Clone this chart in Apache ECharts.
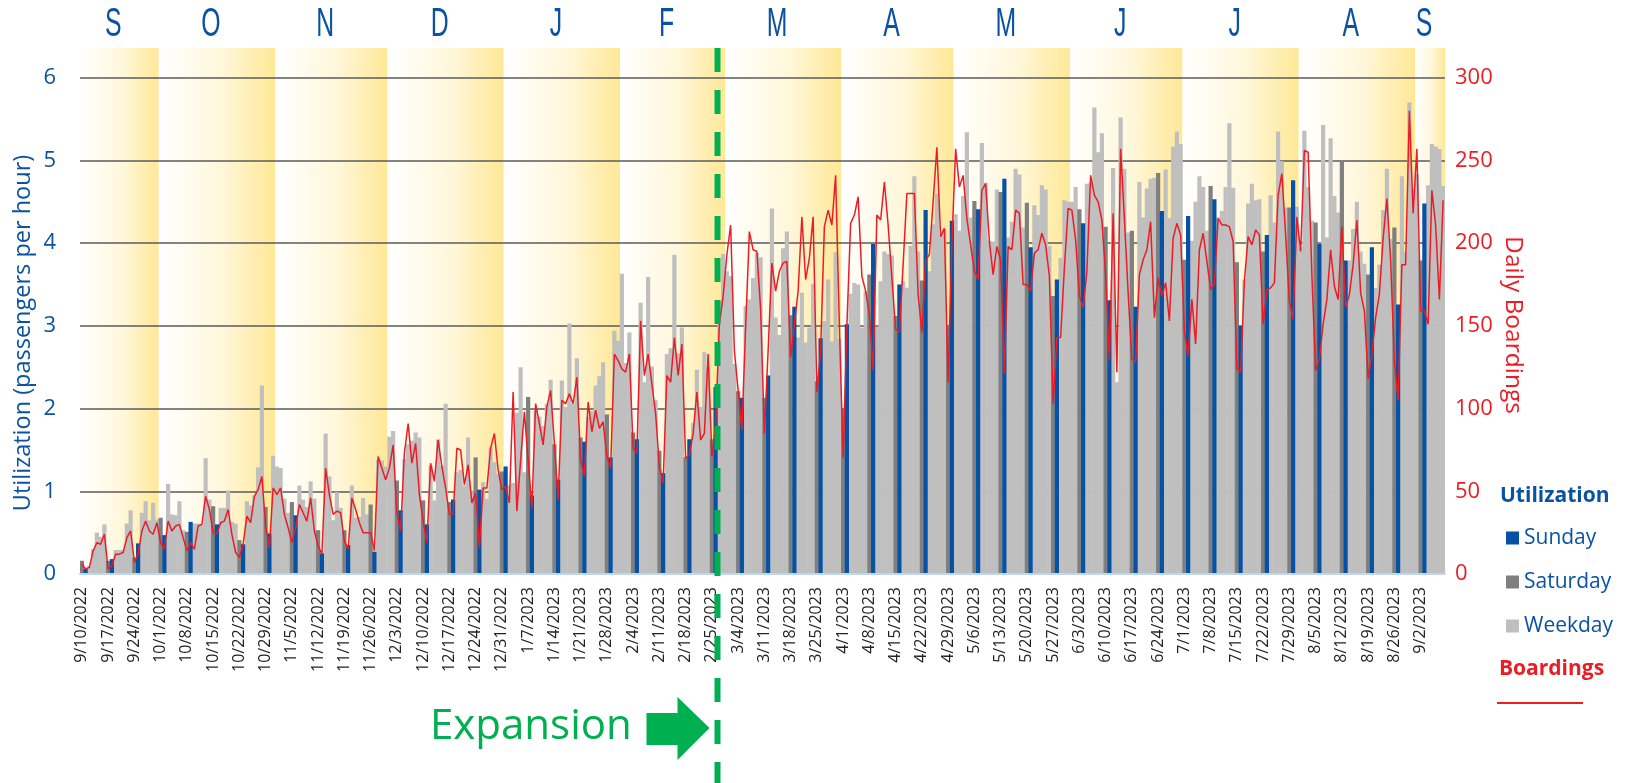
<!DOCTYPE html>
<html>
<head>
<meta charset="utf-8">
<title>Utilization and Daily Boardings</title>
<script src="https://cdn.jsdelivr.net/npm/echarts@6/dist/echarts.min.js"></script>
<style>
  html, body { margin: 0; padding: 0; background: #fff; }
  #chart { width: 1631px; height: 783px; }
</style>
</head>
<body>
<div id="chart"></div>
<script>
// one bar per day, first day is Sat 9/10/2022
const startYear = 2022, startMonth = 8, startDay = 10
const monthLetters = ['S', 'O', 'N', 'D', 'J', 'F', 'M', 'A', 'M', 'J', 'J', 'A', 'S']
const expansionDay = 170 // first day after the expansion (2/27/2023)

// utilization (passengers per hour), one row per week, Sat..Fri
const utilization = [
  0.16, 0.06, 0.10, 0.30, 0.50, 0.45, 0.60,
  0.16, 0.18, 0.29, 0.29, 0.29, 0.61, 0.77,
  0.20, 0.37, 0.74, 0.88, 0.65, 0.86, 0.66,
  0.68, 0.47, 1.09, 0.72, 0.71, 0.88, 0.53,
  0.51, 0.63, 0.61, 0.61, 0.60, 1.40, 0.90,
  0.82, 0.60, 0.80, 0.80, 1.01, 0.63, 0.61,
  0.41, 0.36, 0.88, 0.83, 0.95, 1.29, 2.28,
  0.81, 0.49, 1.43, 1.30, 1.28, 0.91, 0.74,
  0.87, 0.71, 1.07, 0.90, 0.81, 1.12, 0.91,
  0.53, 0.25, 1.70, 1.18, 0.65, 0.99, 0.80,
  0.53, 0.35, 1.07, 0.68, 0.69, 0.92, 0.72,
  0.84, 0.27, 1.38, 1.37, 1.30, 1.66, 1.73,
  1.13, 0.77, 1.39, 1.57, 1.61, 1.71, 1.65,
  0.89, 0.60, 1.31, 0.89, 1.63, 1.31, 2.06,
  0.87, 0.90, 1.23, 1.26, 1.07, 1.65, 1.00,
  1.41, 1.02, 1.11, 0.91, 1.53, 1.35, 1.21,
  1.24, 1.30, 1.07, 1.10, 1.95, 2.50, 1.23,
  2.14, 0.95, 1.97, 1.90, 1.79, 2.06, 2.35,
  1.57, 1.14, 2.34, 2.02, 3.03, 2.06, 2.61,
  1.65, 1.60, 1.90, 1.97, 2.28, 2.39, 2.56,
  1.93, 1.41, 2.94, 2.82, 3.63, 2.55, 2.92,
  1.71, 1.63, 3.28, 2.32, 3.59, 2.51, 2.10,
  1.49, 1.22, 2.66, 2.73, 3.86, 2.67, 2.98,
  1.41, 1.63, 1.83, 2.47, 2.02, 2.68, 2.50,
  1.63, 2.26, 3.30, 3.87, 3.66, 3.60, 2.54,
  2.21, 2.13, 3.24, 3.32, 3.58, 3.88, 3.83,
  2.13, 2.40, 4.42, 3.10, 2.89, 3.94, 4.14,
  3.13, 3.23, 2.86, 3.40, 2.80, 2.98, 3.51,
  2.33, 2.85, 3.06, 3.56, 2.81, 3.89, 2.84,
  2.00, 3.02, 3.39, 3.52, 3.50, 2.98, 3.42,
  3.62, 3.99, 2.99, 3.54, 3.90, 3.87, 3.85,
  3.12, 3.50, 3.54, 3.46, 3.97, 4.81, 3.90,
  3.55, 4.40, 3.66, 4.23, 4.60, 4.10, 4.17,
  3.00, 4.27, 4.35, 4.15, 4.57, 5.34, 4.31,
  4.51, 4.41, 5.21, 4.73, 4.03, 4.02, 4.65,
  4.62, 4.78, 4.07, 4.26, 4.90, 4.83, 4.19,
  4.49, 3.95, 4.46, 4.34, 4.70, 4.65, 3.97,
  3.36, 3.56, 3.82, 4.52, 4.50, 4.50, 4.68,
  4.41, 4.24, 4.72, 4.73, 5.64, 5.10, 5.33,
  4.20, 3.31, 4.91, 2.32, 5.52, 4.90, 4.13,
  4.15, 3.23, 4.74, 4.31, 4.66, 4.78, 4.79,
  4.85, 4.39, 4.89, 4.30, 5.17, 5.35, 5.20,
  3.80, 4.33, 4.03, 4.50, 4.81, 4.68, 4.15,
  4.69, 4.53, 4.31, 4.39, 4.68, 5.45, 4.67,
  3.77, 3.00, 3.56, 4.48, 4.72, 4.52, 4.53,
  3.90, 4.10, 4.58, 4.25, 5.35, 4.99, 4.43,
  4.43, 4.76, 4.44, 3.95, 5.36, 4.68, 4.27,
  4.25, 3.99, 5.43, 4.07, 5.27, 4.57, 4.37,
  4.99, 3.79, 3.79, 4.17, 4.50, 3.90, 3.75,
  3.62, 3.95, 3.46, 3.74, 4.40, 4.90, 4.05,
  4.19, 3.26, 4.81, 3.90, 5.70, 4.64, 4.83,
  3.79, 4.48, 4.70, 5.20, 5.17, 5.14, 4.69
]

// daily boardings, same layout
const boardings = [
  6, 3, 4, 14, 19, 18, 24,
  3, 5, 12, 12, 13, 22, 26,
  7, 12, 26, 32, 26, 24, 31,
  19, 15, 32, 26, 29, 30, 22,
  14, 19, 15, 29, 30, 47, 39,
  25, 24, 31, 32, 39, 24, 13,
  10, 18, 35, 31, 47, 51, 59,
  29, 16, 52, 48, 52, 36, 28,
  19, 28, 42, 37, 32, 46, 26,
  17, 12, 64, 48, 36, 38, 37,
  20, 15, 46, 39, 31, 25, 25,
  25, 14, 71, 64, 57, 64, 78,
  37, 26, 73, 91, 67, 79, 48,
  32, 19, 67, 56, 81, 65, 52,
  36, 36, 76, 75, 54, 66, 43,
  49, 16, 52, 52, 76, 85, 63,
  51, 53, 43, 110, 38, 69, 98,
  69, 40, 103, 91, 78, 101, 111,
  79, 45, 105, 103, 109, 103, 119,
  69, 59, 104, 86, 99, 88, 92,
  71, 64, 133, 129, 124, 122, 133,
  76, 73, 153, 120, 133, 115, 97,
  65, 55, 120, 116, 143, 120, 139,
  70, 72, 85, 110, 81, 85, 133,
  71, 90, 151, 168, 193, 211, 135,
  111, 87, 149, 207, 196, 195, 160,
  85, 135, 188, 171, 183, 188, 189,
  131, 151, 171, 216, 178, 191, 216,
  110, 135, 210, 220, 211, 241, 150,
  70, 150, 212, 217, 228, 180, 171,
  157, 123, 217, 214, 237, 211, 179,
  148, 146, 187, 230, 230, 230, 169,
  146, 190, 193, 225, 258, 204, 209,
  116, 200, 257, 234, 241, 215, 199,
  183, 178, 232, 236, 201, 181, 198,
  190, 121, 198, 196, 220, 218, 175,
  175, 171, 194, 196, 206, 199, 180,
  103, 143, 143, 185, 221, 220, 202,
  168, 161, 183, 241, 229, 225, 214,
  181, 129, 218, 122, 257, 215, 170,
  130, 128, 181, 190, 196, 213, 155,
  179, 168, 176, 153, 203, 212, 205,
  147, 132, 166, 139, 196, 206, 189,
  172, 175, 215, 211, 211, 210, 201,
  124, 122, 177, 204, 199, 208, 205,
  151, 172, 173, 176, 229, 242, 205,
  165, 154, 216, 195, 256, 255, 181,
  123, 130, 151, 166, 196, 174, 166,
  210, 161, 169, 187, 214, 170, 159,
  118, 133, 155, 169, 203, 227, 190,
  129, 105, 187, 187, 280, 218, 257,
  159, 159, 151, 232, 211, 166, 226
]

const BLUE_TEXT = '#0B53A2'
const SUN_BLUE = '#0451A5'
const SAT_GRAY = '#7F7F7F'
const WKDAY_GRAY = '#BFBFBF'
const RED = '#ED1C24'
const GREEN = '#00B050'
const FONT = '"Open Sans", "Noto Sans", sans-serif'

// Dates for the category axis
const t0 = Date.UTC(startYear, startMonth, startDay)
const days = utilization.map((_, i) => new Date(t0 + i * 86400000))
const dates = days.map(d => `${d.getUTCMonth() + 1}/${d.getUTCDate()}/${d.getUTCFullYear()}`)
const dow = days.map(d => d.getUTCDay())

const onlyDays = test => utilization.map((v, i) => test(dow[i]) ? v : '-')

// month start indices, used for the shaded bands
const monthBounds = []
days.forEach((d, i) => { if (i === 0 || d.getUTCDate() === 1) monthBounds.push(i) })
monthBounds.push(days.length)

const bandFill = new echarts.graphic.LinearGradient(0, 0, 1, 0, [
    { offset: 0, color: '#FFFFFF' },
    { offset: 0.55, color: '#FFF7DA' },
    { offset: 1, color: '#FFE896' }
])
const bands = monthBounds.slice(0, -1).map((s, k) => [
    { xAxis: s, itemStyle: { color: bandFill } },
    { xAxis: monthBounds[k + 1] }
])

const chart = echarts.init(document.getElementById('chart'))

// bars overlap a little so no white seams show between days
const barBase = { type: 'bar', barGap: '-100%', barWidth: 4.2, silent: true }

chart.setOption({
    animation: false,
    textStyle: { fontFamily: FONT },
    grid: { left: 80, right: 186, top: 48, bottom: 209 },
    legend: {
        data: ['Sunday', 'Saturday', 'Weekday'],
        orient: 'vertical',
        left: 1501,
        top: 522,
        icon: 'rect',
        itemWidth: 13,
        itemHeight: 13,
        itemGap: 22,
        selectedMode: false,
        textStyle: { color: BLUE_TEXT, fontSize: 21, lineHeight: 22, fontFamily: FONT }
    },
    xAxis: [
        {
            type: 'category',
            data: dates,
            z: 3,
            axisLine: { lineStyle: { color: '#BDD7EE', width: 2 } },
            axisTick: { show: false },
            axisLabel: { interval: 6, rotate: 90, fontSize: 16, color: '#222', margin: 13, fontFamily: FONT }
        },
        { type: 'value', min: 0, max: days.length, show: false }
    ],
    yAxis: [
        {
            type: 'value',
            min: 0,
            max: 6.36,
            interval: 1,
            z: 1.5,
            axisLine: { show: false },
            axisTick: { show: false },
            axisLabel: {
                color: BLUE_TEXT, fontSize: 22, margin: 24, fontFamily: FONT,
                formatter: v => Number.isInteger(v) ? String(v) : ''
            },
            splitLine: { showMaxLine: false, lineStyle: { color: '#5A5A5A', width: 1.5 } }
        },
        {
            type: 'value',
            min: 0,
            max: 318,
            interval: 50,
            axisLine: { show: false },
            axisTick: { show: false },
            splitLine: { show: false },
            axisLabel: {
                color: RED, fontSize: 22, margin: 10, fontFamily: FONT,
                formatter: v => v % 50 === 0 ? String(v) : ''
            }
        }
    ],
    series: [
        {
            name: 'Months',
            type: 'line',
            xAxisIndex: 1,
            yAxisIndex: 0,
            data: [[0, 0]],
            symbol: 'none',
            silent: true,
            lineStyle: { opacity: 0 },
            markArea: { silent: true, z: 1, data: bands }
        },
        { ...barBase, name: 'Weekday', data: onlyDays(d => d > 0 && d < 6), itemStyle: { color: WKDAY_GRAY } },
        { ...barBase, name: 'Saturday', data: onlyDays(d => d === 6), itemStyle: { color: SAT_GRAY } },
        { ...barBase, name: 'Sunday', data: onlyDays(d => d === 0), itemStyle: { color: SUN_BLUE } },
        {
            name: 'Boardings',
            type: 'line',
            yAxisIndex: 1,
            data: boardings,
            symbol: 'none',
            silent: true,
            z: 5,
            lineStyle: { color: RED, width: 1.5 }
        }
    ]
})

// Annotations placed from the axis scale
const px = v => chart.convertToPixel({ xAxisIndex: 1 }, v)
const lineX = px(expansionDay)
const tipX = lineX - 8

const graphics = []

monthLetters.forEach((letter, k) => {
    graphics.push({
        type: 'text',
        x: px((monthBounds[k] + monthBounds[k + 1]) / 2) - 6,
        y: 25,
        scaleX: 0.62,
        style: {
            text: letter, fill: BLUE_TEXT, fontSize: 40, fontFamily: '"Liberation Sans", Arial, sans-serif',
            textAlign: 'center', textVerticalAlign: 'middle'
        }
    })
})

graphics.push(
    {
        type: 'line', z: 20,
        shape: { x1: lineX, y1: 48, x2: lineX, y2: 783 },
        style: { stroke: GREEN, lineWidth: 6, lineDash: [24, 18] }
    },
    {
        type: 'polygon', z: 20,
        shape: {
            points: [
                [tipX - 63, 713], [tipX - 32, 713], [tipX - 32, 697], [tipX, 728],
                [tipX - 32, 760], [tipX - 32, 745], [tipX - 63, 745]
            ]
        },
        style: { fill: GREEN }
    },
    {
        type: 'text', z: 20, x: 430, y: 727,
        style: { text: 'Expansion', fill: GREEN, fontSize: 42, fontFamily: FONT, textVerticalAlign: 'middle' }
    },
    {
        type: 'text', x: 23, y: 333, rotation: Math.PI / 2,
        style: {
            text: 'Utilization (passengers per hour)', fill: BLUE_TEXT, fontSize: 23.5, fontFamily: FONT,
            textAlign: 'center', textVerticalAlign: 'middle'
        }
    },
    {
        type: 'text', x: 1513, y: 325, rotation: -Math.PI / 2,
        style: {
            text: 'Daily Boardings', fill: RED, fontSize: 24.5, fontFamily: FONT,
            textAlign: 'center', textVerticalAlign: 'middle'
        }
    },
    {
        type: 'text', x: 1500, y: 496,
        style: { text: 'Utilization', fill: BLUE_TEXT, fontSize: 21, fontWeight: 'bold', fontFamily: FONT, textVerticalAlign: 'middle' }
    },
    {
        type: 'text', x: 1499, y: 669,
        style: { text: 'Boardings', fill: RED, fontSize: 21, fontWeight: 'bold', fontFamily: FONT, textVerticalAlign: 'middle' }
    },
    {
        type: 'line',
        shape: { x1: 1497, y1: 703, x2: 1583, y2: 703 },
        style: { stroke: RED, lineWidth: 2 }
    }
)

chart.setOption({ graphic: graphics })
</script>
</body>
</html>
